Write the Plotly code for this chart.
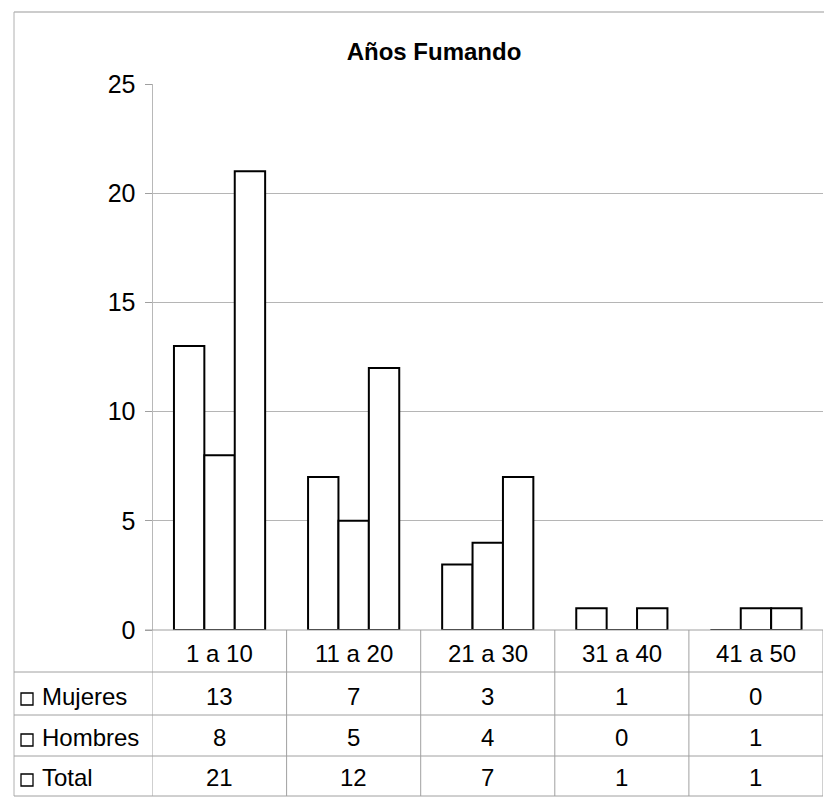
import plotly.graph_objects as go

categories = ["1 a 10", "11 a 20", "21 a 30", "31 a 40", "41 a 50"]
series_names = ["Mujeres", "Hombres", "Total"]
mujeres = [13, 7, 3, 1, 0]
hombres = [8, 5, 4, 0, 1]
total = [21, 12, 7, 1, 1]
series_values = [mujeres, hombres, total]
y_ticks = [0, 5, 10, 15, 20, 25]
title_text = "Años Fumando"

W, H = 832, 798
OFF = 8  # page body margin
FONT = "Liberation Sans, Arial, sans-serif"


def px(x):
    return (x - OFF) / W


def py(y):
    return 1 - (y - OFF) / H


fig = go.Figure()
for name, vals in zip(series_names, series_values):
    fig.add_trace(go.Bar(
        name=name, x=categories, y=vals,
        marker=dict(color="white", line=dict(color="black", width=2)),
        showlegend=False,
    ))

grid_color = "#b5b5b5"
line_color = "#a0a0a0"

shapes = []
# outer chart border (top and left)
shapes.append(dict(type="line", xref="paper", yref="paper",
                   x0=px(14), x1=px(840), y0=py(12), y1=py(12),
                   line=dict(color="#9a9a9a", width=1.2)))
shapes.append(dict(type="line", xref="paper", yref="paper",
                   x0=px(14), x1=px(14), y0=py(12), y1=py(796),
                   line=dict(color="#b0b0b0", width=1)))

# data table lines
row_lines = [630, 672, 715, 756, 796]
for i, yy in enumerate(row_lines):
    x0 = px(145) if i == 0 else px(14)
    shapes.append(dict(type="line", xref="paper", yref="paper",
                       x0=x0, x1=px(823), y0=py(yy), y1=py(yy),
                       line=dict(color=line_color, width=1)))
n = len(categories)
for k in range(n + 1):
    shapes.append(dict(type="line", xref="x", yref="paper",
                       x0=k - 0.5, x1=k - 0.5, y0=py(630), y1=py(796),
                       line=dict(color=line_color, width=1)))

annotations = []
# category header row
for c in categories:
    annotations.append(dict(x=c, xref="x", y=py(653), yref="paper",
                            text=c, showarrow=False, xanchor="center", yanchor="middle",
                            font=dict(family=FONT, size=24, color="black")))
row_centers = [696, 737, 777]
for name, vals, yc in zip(series_names, series_values, row_centers):
    # legend key square
    shapes.append(dict(type="rect", xref="paper", yref="paper",
                       x0=px(21), x1=px(33), y0=py(yc + 9), y1=py(yc - 3),
                       line=dict(color="black", width=1.3), fillcolor="white"))
    annotations.append(dict(x=px(40), xref="paper", y=py(yc), yref="paper",
                            text=name, showarrow=False, xanchor="left", yanchor="middle",
                            font=dict(family=FONT, size=24, color="black")))
    for c, v in zip(categories, vals):
        annotations.append(dict(x=c, xref="x", y=py(yc), yref="paper",
                                text=str(v), showarrow=False, xanchor="center", yanchor="middle",
                                font=dict(family=FONT, size=24, color="black")))

fig.update_layout(
    width=W, height=H,
    margin=dict(l=0, r=0, t=0, b=0, autoexpand=False),
    paper_bgcolor="white", plot_bgcolor="white",
    barmode="group", bargap=0.32, bargroupgap=0,
    title=dict(text="<b>" + title_text + "</b>", x=px(434), y=py(52),
               xanchor="center", yanchor="middle", automargin=False,
               font=dict(family=FONT, size=24, color="black")),
    xaxis=dict(domain=[px(152.5), px(823)], showticklabels=False, showgrid=False,
               showline=False, zeroline=False, ticks="", automargin=False,
               range=[-0.5, n - 0.5]),
    yaxis=dict(domain=[py(630), py(84)], range=[0, 25], tickvals=y_ticks,
               showgrid=True, gridcolor=grid_color, gridwidth=1, automargin=False,
               zeroline=False, showline=True, linecolor="#b8b8b8", linewidth=1,
               ticks="outside", ticklen=7, tickcolor="#a0a0a0",
               tickfont=dict(family=FONT, size=25, color="black"), ticklabelstandoff=4),
    shapes=shapes,
    annotations=annotations,
)

fig.write_html("out.html")
